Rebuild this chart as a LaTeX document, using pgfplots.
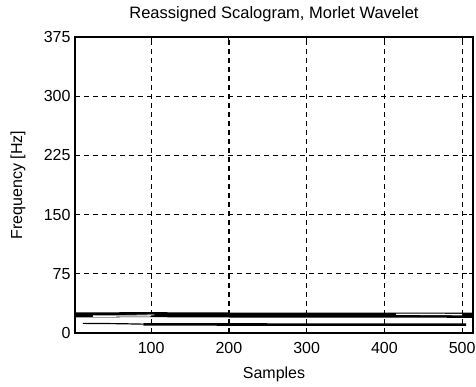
\documentclass[border=0pt]{standalone}
\usepackage{fontspec}
\setmainfont{Liberation Sans}
\usepackage{pgfplots}
\pgfplotsset{compat=1.18}
\begin{document}
\begin{tikzpicture}
\useasboundingbox (-75pt,-54pt) rectangle (401pt,333pt);
\begin{axis}[
  at={(0,0)}, anchor=south west,
  scale only axis,
  width=398pt, height=296pt,
  xmin=2, xmax=514, ymin=0, ymax=375,
  xtick={100,200,300,400,500},
  ytick={0,75,150,225,300,375},
  grid=major,
  major grid style={black, line width=1.2pt, dash pattern=on 5pt off 4pt},
  axis line style={black, line width=1.5pt},
  tick align=inside, major tick length=4pt,
  tick style={black, line width=1.1pt},
  /pgf/number format/assume math mode=true,
  ticklabel style={font=\fontsize{16}{18}\selectfont},
  label style={font=\fontsize{16}{18}\selectfont},
  title style={font=\fontsize{16.5}{18}\selectfont, at={(0.5,1)}, anchor=south, yshift=6pt},
  title={Reassigned Scalogram, Morlet Wavelet},
  xlabel={Samples}, ylabel={Frequency [Hz]},
  xlabel style={at={(0.5,0)}, anchor=north, yshift=-30pt},
  ylabel style={at={(0,0.5)}, anchor=south, rotate=0, yshift=46pt},
  yticklabel style={xshift=-1pt},
  xticklabel style={yshift=-6pt},
  clip=true,
]
% main ridge near 23 Hz
\addplot[black, line width=5pt] coordinates {(2,23) (100,23.2) (200,22.8) (300,22.6) (400,22.8) (514,22.5)};
% split of the ridge near the ends
\addplot[white, line width=1.4pt] coordinates {(25,21.3) (60,21.5) (100,21.8)};
\addplot[gray!60, line width=1pt] coordinates {(60,22.0) (104,23.0)};
\addplot[white, line width=1.4pt] coordinates {(415,23.8) (470,23.6) (500,23.2)};
\addplot[black, line width=2pt] coordinates {(480,19.8) (514,19.8)};
% lower ridge near 11 Hz
\addplot[black, line width=1.2pt] coordinates {(12,12.2) (60,11.8) (90,11.2)};
\addplot[black, line width=2.6pt] coordinates {(90,11) (200,10.8) (300,10.6) (400,10.7) (505,10.6)};
\end{axis}
\end{tikzpicture}
\end{document}
